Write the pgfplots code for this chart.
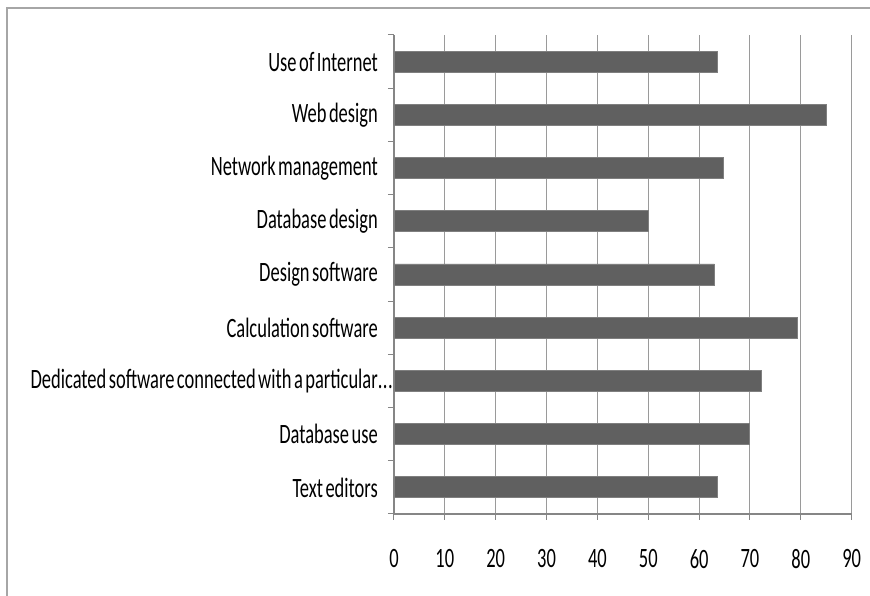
\documentclass[border=0pt]{standalone}
\usepackage{fontspec}
\setmainfont{Carlito}[FakeStretch=0.66, WordSpace=0.6]
\usepackage{pgfplots}
\pgfplotsset{compat=1.18}
\definecolor{barfill}{HTML}{606060}
\definecolor{baredge}{HTML}{7F7F7F}
\definecolor{gridc}{HTML}{9A9A9A}
\definecolor{axisc}{HTML}{868686}
\definecolor{framec}{HTML}{A6A6A6}
\newcommand{\dotsx}{.\kern0.5pt.\kern0.5pt.}
\begin{document}
\begin{tikzpicture}[x=1pt,y=1pt]
\useasboundingbox (0,0) rectangle (870,596);
\draw[color=framec, line width=1.3pt] (7,-10) -- (7,588) -- (880,588);
\begin{axis}[
  at={(394pt,82pt)}, anchor=south west,
  scale only axis, width=457.7pt, height=479pt,
  xbar, bar width=21pt,
  xmin=0, xmax=90, ymin=-0.5, ymax=8.5,
  xtick={0,10,...,90},
  ytick={-0.5,0.5,...,8.5},
  y tick label as interval,
  yticklabels={Text editors,Database use,{Dedicated software connected with a particular\rlap{\dotsx}},Calculation software,Design software,Database design,Network management,Web design,Use of Internet},
  axis x line*=bottom, axis y line*=left,
  axis line style={color=axisc, line width=1.2pt},
  xmajorgrids, major grid style={color=gridc, line width=1pt},
  tick align=outside,
  x tick style={color=axisc, line width=1pt},
  y tick style={color=axisc, line width=1pt},
  xtick pos=bottom, ytick pos=left,
  major tick length=6pt,
  tick label style={font=\fontsize{28}{30}\selectfont, text=black},
  /pgf/number format/assume math mode=true,
  xticklabel style={yshift=-26pt},
  yticklabel style={inner sep=0pt, xshift=-10pt},
  clip=false,
]
\addplot[fill=barfill, draw=baredge, line width=0.8pt] coordinates {
(63.5,0) (69.9,1) (72.3,2) (79.4,3) (63.0,4) (50.0,5) (64.7,6) (85.0,7) (63.5,8)
};
\end{axis}
\end{tikzpicture}
\end{document}
